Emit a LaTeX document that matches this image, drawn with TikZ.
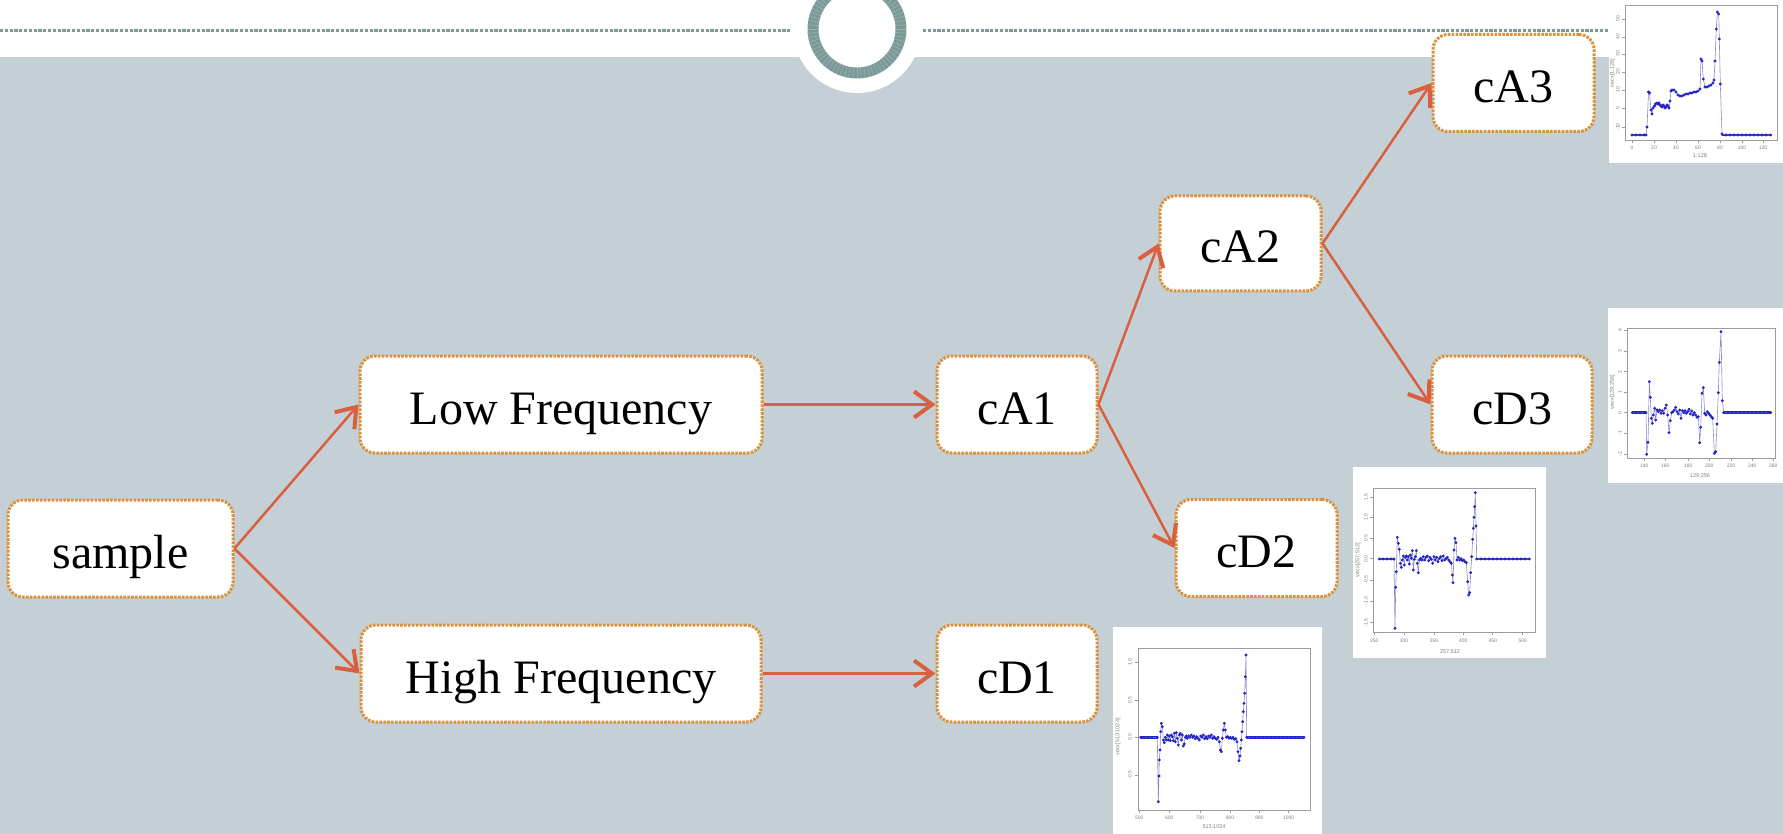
\documentclass[tikz,border=0pt]{standalone}
\usepackage{fontspec}
\setmainfont{Liberation Serif}
\newfontfamily\axisfont{Liberation Sans}
\usetikzlibrary{arrows.meta}

\definecolor{bgcol}{HTML}{C5D0D6}
\definecolor{ringcol}{HTML}{7A9A98}
\definecolor{boxline}{HTML}{D9913B}
\definecolor{arrowcol}{HTML}{D8603F}
\definecolor{plotblue}{HTML}{2323C8}
\definecolor{plotgray}{HTML}{8C8CC4}
\definecolor{framegray}{HTML}{9C9C9C}

\tikzset{
  box/.style={draw=boxline, fill=white, line width=3pt,
    dash pattern=on 2.6pt off 1.3pt, rounded corners=15pt, inner sep=0pt,
    minimum height=97pt, text height=41pt, text depth=2pt,
    font=\fontsize{48}{56}\selectfont},
  link/.style={draw=arrowcol, line width=2.5pt,
    -{Straight Barb[length=18pt,width=26pt,line width=4pt]}},
  plotframe/.style={draw=framegray, line width=0.7pt},
  plottick/.style={draw=framegray, line width=0.6pt},
  ticklab/.style={font=\axisfont\fontsize{5}{6}\selectfont, text=gray, inner sep=0pt},
  axislab/.style={font=\axisfont\fontsize{5.5}{6}\selectfont, text=gray, inner sep=0pt},
  flatline/.style={draw=plotblue, line width=2.6pt},
  plottrace/.style={draw=plotgray, line width=0.6pt, mark=*, mark size=1.1pt,
    mark options={draw=plotblue, fill=plotblue}},
}

\begin{document}
\begin{tikzpicture}[x=1pt, y=-1pt]
\useasboundingbox (0,0) rectangle (1783,834);

% header and slide background
\fill[white] (0,0) rectangle (1783,834);
\fill[bgcol] (0,57) rectangle (1783,834);
\fill[white] (857,29) circle (64);
\draw[ringcol, line width=11pt] (857,29) circle (44);
\foreach \a in {0,5,...,355}
  \draw[white, opacity=0.22, line width=0.7pt] (857,29) ++(\a:38.5) -- ++(\a:11);
\draw[ringcol, line width=3pt, dash pattern=on 3.2pt off 1.6pt] (0,31) -- (791,31);
\draw[ringcol, line width=3pt, dash pattern=on 3.2pt off 1.6pt] (923,31) -- (1608,31);

% ---------- small signal plots ----------
% approximation level 3
\fill[white] (1609,0) rectangle (1783,163);
\draw[plotframe] (1625,5) rectangle (1777,140);
\foreach \x/\l [count=\i] in {1632/0,1654/20,1676/40,1698/60,1720/80,1742/100,1763/120}{
  \draw[plottick] (\x,140) -- (\x,143);
  \node[ticklab] (pa\i) at (\x,148) {\l};}
\foreach \y/\l [count=\i] in {19/50,37/40,54/30,72/20,90/10,108/0,127/-10}{
  \draw[plottick] (1625,\y) -- (1622,\y);
  \node[ticklab, rotate=90] (qa\i) at (1618,\y) {\l};}
\node[axislab] (la3) at (1700,156) {1:128};
\node[axislab, rotate=90] (ya3) at (1612.5,73) {vecx[1:128]};
\draw[flatline] (1632,135) -- (1646,135);
\draw[flatline] (1722,135) -- (1770.7,135);
\draw[plottrace] plot coordinates {(1632,135)(1636,135)(1640,135)(1644,135)(1646,135)(1647,127)(1648.5,92)(1649.5,93)(1651,110)(1652,114)(1653,108)
 (1654.5,106)(1655.5,104)(1657,103)(1658,104)(1659,103)(1660,105)(1661,106)(1662,107)(1663,105)(1664,106)(1665,108)(1666,107)(1667,105)(1668,106)(1669,108)
 (1670,101)(1671,91)(1672,90)(1674,90)(1676,92)(1678,95)(1680,96)(1682,96)(1684,95)(1686,94)(1688,94)(1690,93)(1692,93)(1694,92)(1696,92)(1698,91)(1700,89)
 (1701,59)(1702,61)(1703.3,79)(1705,87)(1707,87)(1709,86)(1711,85)(1713,83)(1714,80)(1715,61)(1716.3,29)(1717.3,12)(1718.7,14)(1719.3,39)(1720.3,84)(1722,134)
 (1726,135)(1730,135)(1734,135)(1738,135)(1742,135)(1746,135)(1750,135)(1754,135)(1758,135)(1762,135)(1766,135)(1770.7,135)};

% detail level 3
\fill[white] (1608,308) rectangle (1783,483);
\draw[plotframe] (1627,328) rectangle (1775,458);
\foreach \x/\l [count=\i] in {1644.3/140,1665.3/160,1688.3/180,1709.3/200,1731/220,1752.3/240,1773.3/260}{
  \draw[plottick] (\x,458) -- (\x,461);
  \node[ticklab] (pd\i) at (\x,466) {\l};}
\foreach \y/\l [count=\i] in {330.3/4,351/3,371.7/2,392.3/1,412.7/0,433.3/-1,454/-2}{
  \draw[plottick] (1627,\y) -- (1624,\y);
  \node[ticklab, rotate=90] (qd\i) at (1620,\y) {\l};}
\node[axislab] (ld3) at (1700,476) {129:256};
\node[axislab, rotate=90] (yd3) at (1612.5,392) {vecx[129:256]};
\draw[flatline] (1632.3,412.7) -- (1646,412.7);
\draw[flatline] (1723.7,412.7) -- (1770.7,412.7);
\draw[plottrace] plot coordinates {(1632.3,412.7)(1636,412.7)(1640,412.7)(1644,412.7)(1646,412.7)(1646.7,454.3)(1648,442.3)(1649.3,381.7)(1650.3,397.3)(1651.3,418.3)(1652.3,423.3)
 (1653.3,415)(1654.7,408.3)(1655.7,420)(1657,410)(1658.3,411.7)(1659.7,410)(1661,413.3)(1662.3,410.7)(1663.7,413.3)(1665,408.3)(1666.3,405)(1667.7,415)(1669,432.7)
 (1670.3,420.7)(1671.7,412.7)(1673,411.7)(1674.3,410)(1675.7,407.3)(1677,411.7)(1678.3,414)(1679.7,410)(1681,418.3)(1682.3,410.7)(1683.7,412.7)(1685,410.7)
 (1686.3,413.3)(1687.7,411.7)(1689,409.3)(1690.3,414)(1691.7,411)(1693,415)(1694.3,412.7)(1695.7,415)(1697,417.3)(1698.3,416.7)(1699.7,442.7)(1700.7,427.3)
 (1702,393.3)(1703.3,387.7)(1704.7,413.3)(1706,415)(1707.3,411.7)(1708.7,413.3)(1710,415)(1711.3,416.7)(1712.7,418.3)(1714.3,453.3)(1715.7,451.7)(1717,424)
 (1718.3,392.7)(1719.3,362.3)(1721,331.7)(1722.3,400.7)(1723.7,412.7)(1728,412.7)(1732,412.7)(1736,412.7)(1740,412.7)(1744,412.7)(1748,412.7)(1752,412.7)
 (1756,412.7)(1760,412.7)(1764,412.7)(1768,412.7)(1770.7,412.7)};

% detail level 2
\fill[white] (1353,467) rectangle (1546,658);
\draw[plotframe] (1373,488) rectangle (1535,632);
\foreach \x/\l [count=\i] in {1374.3/250,1404/300,1434/350,1463.3/400,1492.7/450,1522.7/500}{
  \draw[plottick] (\x,632) -- (\x,635);
  \node[ticklab] (pc\i) at (\x,641) {\l};}
\foreach \y/\l [count=\i] in {497/1.5,517.3/1.0,538/0.5,558.7/0.0,580/-0.5,601/-1.0,622.7/-1.5}{
  \draw[plottick] (1373,\y) -- (1370,\y);
  \node[ticklab, rotate=90] (qc\i) at (1366,\y) {\l};}
\node[axislab] (ld2) at (1450,652) {257:512};
\node[axislab, rotate=90] (yd2) at (1358,560) {vecx[257:512]};
\draw[flatline] (1379.3,559) -- (1394,559);
\draw[flatline] (1476.7,559) -- (1529.3,559);
\draw[plottrace] plot coordinates {(1379.3,559)(1383,559)(1387,559)(1391,559)(1394,559)(1395,628.3)(1395.7,587.3)(1396.3,571.7)(1397.3,537.3)(1398.3,543.3)
 (1399.3,549.3)(1400.3,563.3)(1401.3,567.3)(1402.3,560)(1403.3,556)(1404.3,565)(1405.3,557.3)(1406.3,556)(1407.3,560)(1408.3,556.7)(1409.3,564)(1410.3,555)
 (1411.3,558.3)(1412.3,550.7)(1413.3,570)(1414.3,559.3)(1415.3,556.7)(1416.3,550.7)(1417.3,563.3)(1418.3,572.7)(1419.3,560)(1420.7,558.3)(1422,560)
 (1423.3,556.7)(1424.7,560)(1426,557.3)(1427.3,556)(1428.7,560.7)(1430,557.3)(1431.3,559.3)(1432.7,563.3)(1434,556.7)(1435.3,560)(1436.7,557.3)(1438,561.7)
 (1439.3,558.7)(1440.7,556.7)(1442,560.7)(1443.3,556)(1444.7,560)(1446,558.7)(1447.3,557.3)(1448.7,560)(1450,561.7)(1451.3,563.3)(1452.3,575)(1453,582.7)
 (1454,550)(1455,538.3)(1456,542.7)(1457,560)(1458.3,557.3)(1459.7,560)(1461,558.7)(1462.3,560.7)(1463.7,560)(1465,561.7)(1466.3,562.7)(1467.7,581.7)
 (1468.7,595)(1469.7,592.7)(1470.7,572.7)(1471.7,556.7)(1472.7,539.3)(1473.3,528.3)(1474,517.3)(1474.7,506.7)(1475.3,492.7)(1476,526)(1476.7,559)
 (1481,559)(1485,559)(1489,559)(1493,559)(1497,559)(1501,559)(1505,559)(1509,559)(1513,559)(1517,559)(1521,559)(1525,559)(1529.3,559)};

% detail level 1
\fill[white] (1113,627) rectangle (1322,834);
\draw[plotframe] (1138,648) rectangle (1310,810);
\foreach \x/\l [count=\i] in {1139.3/500,1169.3/600,1200/700,1230/800,1259.3/900,1288.7/1000}{
  \draw[plottick] (\x,810) -- (\x,813);
  \node[ticklab] (pb\i) at (\x,818) {\l};}
\foreach \y/\l [count=\i] in {662.3/1.0,700/0.5,737.3/0.0,775/-0.5}{
  \draw[plottick] (1138,\y) -- (1135,\y);
  \node[ticklab, rotate=90] (qb\i) at (1130,\y) {\l};}
\node[axislab] (ld1) at (1214,827) {513:1024};
\node[axislab, rotate=90] (yd1) at (1118,737) {vecx[513:1024]};
\draw[flatline] (1140.7,737.3) -- (1157.3,737.3);
\draw[flatline] (1246.7,737.3) -- (1304,737.3);
\draw[plottrace] plot coordinates {(1140.7,737.3)(1144,737.3)(1148,737.3)(1152,737.3)(1157.3,737.3)(1158.3,801.7)(1159,776)(1159.3,760)(1160,750)(1160.7,731.7)
 (1161.3,723.3)(1162.3,726.7)(1163.3,740)(1164.3,742.7)(1165.3,737.3)(1166.3,740)(1167.3,735)(1168.3,740)(1169.3,736)(1170.3,740.7)(1171.3,735)(1172.3,736.7)
 (1173.3,740.7)(1174.3,733.3)(1175.3,741.7)(1176.3,732.7)(1177.3,738.3)(1178.3,745)(1179.3,735)(1180.3,733.3)(1181.3,740)(1182.3,735)(1183.3,746)(1184.3,744)
 (1185.3,737.3)(1186.3,736)(1187.3,738.3)(1188.7,736)(1190,737.3)(1191.3,735)(1192.7,737.3)(1194,736)(1195.3,738.7)(1196.7,736.7)(1198,738.3)(1199.3,740)
 (1200.7,736)(1202,737.3)(1203.3,735)(1204.7,738.7)(1206,736.7)(1207.3,738.7)(1208.7,736)(1210,737.3)(1211.3,735)(1212.7,738.3)(1214,736.7)(1215.3,738.3)
 (1216.7,739.3)(1218,737.3)(1219.3,741.7)(1220.3,750)(1221.3,751.7)(1222.3,738.3)(1223.3,730)(1224.3,723.3)(1225.3,730)(1226.3,737.3)(1227.7,736.7)(1229,738.3)
 (1230.3,737.3)(1231.7,738.3)(1233,737.3)(1234.3,739.3)(1235.7,738.7)(1237,741.7)(1238,751.7)(1239,760.7)(1240,756)(1240.7,748.3)(1241.3,740)(1242,731.7)
 (1242.7,721.7)(1243.3,711.7)(1244,703.3)(1244.7,693.3)(1245.3,676.7)(1246,655)(1246.7,737.3)(1251,737.3)(1255,737.3)(1259,737.3)(1263,737.3)(1267,737.3)
 (1271,737.3)(1275,737.3)(1279,737.3)(1283,737.3)(1287,737.3)(1291,737.3)(1295,737.3)(1299,737.3)(1304,737.3)};

% ---------- decomposition tree ----------
\node[box, minimum width=225pt] (sample) at (120.5,548.5) {sample};
\node[box, minimum width=402pt] (low) at (561,404.5) {Low Frequency};
\node[box, minimum width=400pt] (high) at (561,673.5) {High Frequency};
\node[box, minimum width=160pt] (cA1) at (1017,404.5) {cA1};
\node[box, minimum width=160pt] (cD1) at (1017,673.5) {cD1};
\node[box, minimum width=161pt, minimum height=95pt] (cA2) at (1240.5,243.5) {cA2};
\node[box, minimum width=161pt] (cD2) at (1256.5,548) {cD2};
\node[box, minimum width=161pt] (cA3) at (1513.5,83) {cA3};
\node[box, minimum width=160pt] (cD3) at (1512,404.5) {cD3};

\draw[link] (sample.east) -- (low.west);
\draw[link] (sample.east) -- (high.west);
\draw[link] (low.east) -- (cA1.west);
\draw[link] (high.east) -- (cD1.west);
\draw[link] (cA1.east) -- (cA2.west);
\draw[link] (cA1.east) -- (cD2.west);
\draw[link] (cA2.east) -- (cA3.west);
\draw[link] (cA2.east) -- (cD3.west);
\end{tikzpicture}
\end{document}
